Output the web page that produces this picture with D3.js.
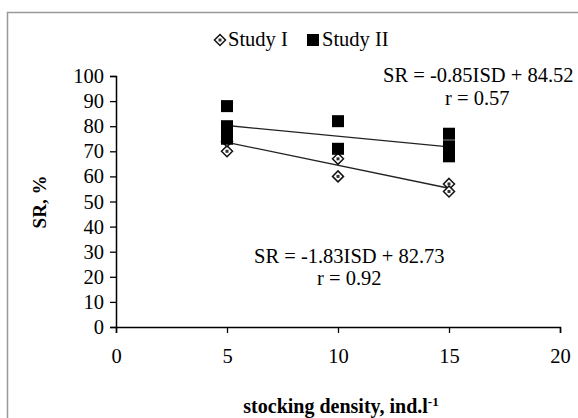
<!DOCTYPE html>
<html>
<head>
<meta charset="utf-8">
<script src="https://cdn.jsdelivr.net/npm/d3@7"></script>
<style>
  body { margin: 0; background: #fff; }
  text { font-family: "Liberation Serif", "Times New Roman", serif; fill: #000; }
</style>
</head>
<body>
<div id="chart"></div>
<script>
// survival rate points
var studyOneX = [5, 5, 10, 10, 15, 15];
var studyOneY = [70, 74, 67, 60, 57, 54];
var studyTwoX = [5, 5, 5, 5, 10, 10, 15, 15, 15];
var studyTwoY = [88, 80, 77, 75, 82, 71, 77, 72, 68];

// regression lines (slope, intercept) from the equations on the chart
var fitOne = [-1.83, 82.73];
var fitTwo = [-0.85, 84.52];
var fitRange = [5, 15];

var xTicks = [0, 5, 10, 15, 20];
var yTicks = [0, 10, 20, 30, 40, 50, 60, 70, 80, 90, 100];

var width = 578,
  height = 418;

var svg = d3.select('#chart')
  .append('svg')
  .attr('width', width)
  .attr('height', height);

// outer frame
svg.append('rect')
  .attr('x', 7.5)
  .attr('y', 12.5)
  .attr('width', 600)
  .attr('height', 500)
  .attr('fill', 'none')
  .attr('stroke', '#999')
  .attr('stroke-width', 1.5);

var x = d3.scaleLinear().domain([0, 20]).range([116, 560]);
var y = d3.scaleLinear().domain([0, 100]).range([327, 76]);

var xAxis = svg.append('g')
  .attr('transform', 'translate(0,' + y(0) + ')')
  .call(d3.axisBottom(x).tickValues(xTicks).tickSize(6).tickPadding(15));

var yAxis = svg.append('g')
  .attr('transform', 'translate(' + x(0) + ',0)')
  .call(d3.axisLeft(y).tickValues(yTicks).tickSize(6).tickPadding(6));

[xAxis, yAxis].forEach(function(ax) {
  ax.select('.domain').attr('stroke', '#000').attr('stroke-width', 1.5);
  ax.selectAll('.tick line').attr('stroke', '#000').attr('stroke-width', 1.3);
  ax.selectAll('.tick text')
    .attr('font-family', '"Liberation Serif", serif')
    .attr('font-size', 20.5)
    .attr('fill', '#000');
});

// axis titles
svg.append('text')
  .attr('x', 341)
  .attr('y', 413)
  .attr('text-anchor', 'middle')
  .attr('font-size', 20)
  .attr('font-weight', 'bold')
  .html('stocking density, ind.l<tspan dy="-7" font-size="13">-1</tspan>');

svg.append('text')
  .attr('transform', 'translate(46,202) rotate(-90)')
  .attr('text-anchor', 'middle')
  .attr('font-size', 19)
  .attr('font-weight', 'bold')
  .text('SR, %');

// regression lines
function fitLine(fit) {
  return fitRange.map(function(v) { return [x(v), y(fit[0] * v + fit[1])]; });
}
[fitOne, fitTwo].forEach(function(fit) {
  svg.append('path')
    .attr('d', d3.line()(fitLine(fit)))
    .attr('stroke', '#222')
    .attr('stroke-width', 1.3)
    .attr('fill', 'none');
});

// study I: patterned diamonds
function drawDiamond(g, cx, cy) {
  var s = 5.5;
  g.append('path')
    .attr('d', 'M' + cx + ',' + (cy - s) + 'L' + (cx + s) + ',' + cy + 'L' + cx + ',' + (cy + s) + 'L' + (cx - s) + ',' + cy + 'Z')
    .attr('fill', '#fff')
    .attr('stroke', '#111')
    .attr('stroke-width', 1.5);
  g.append('rect')
    .attr('x', cx - 1.5).attr('y', cy - 1.5)
    .attr('width', 3).attr('height', 3)
    .attr('fill', '#333');
}

var markersOne = svg.append('g');
studyOneX.forEach(function(v, i) {
  drawDiamond(markersOne, x(v), y(studyOneY[i]));
});

// study II: filled squares
svg.append('g')
  .selectAll('rect')
  .data(studyTwoX)
  .enter()
  .append('rect')
  .attr('x', function(d) { return x(d) - 6; })
  .attr('y', function(d, i) { return y(studyTwoY[i]) - 6; })
  .attr('width', 12)
  .attr('height', 12)
  .attr('fill', '#000');

// equations
svg.append('text')
  .attr('x', 383).attr('y', 82)
  .attr('font-size', 20.5)
  .text('SR = -0.85ISD + 84.52');
svg.append('text')
  .attr('x', 445).attr('y', 105)
  .attr('font-size', 20.5)
  .text('r = 0.57');
svg.append('text')
  .attr('x', 254).attr('y', 263)
  .attr('font-size', 20.5)
  .text('SR = -1.83ISD + 82.73');
svg.append('text')
  .attr('x', 317).attr('y', 285)
  .attr('font-size', 20.5)
  .text('r = 0.92');

// legend
var legend = svg.append('g');
drawDiamond(legend, 220, 40);
legend.append('text')
  .attr('x', 228).attr('y', 46)
  .attr('font-size', 20.5)
  .text('Study I');
legend.append('rect')
  .attr('x', 307).attr('y', 34)
  .attr('width', 12).attr('height', 12)
  .attr('fill', '#000');
legend.append('text')
  .attr('x', 322).attr('y', 46)
  .attr('font-size', 20.5)
  .text('Study II');
</script>
</body>
</html>
